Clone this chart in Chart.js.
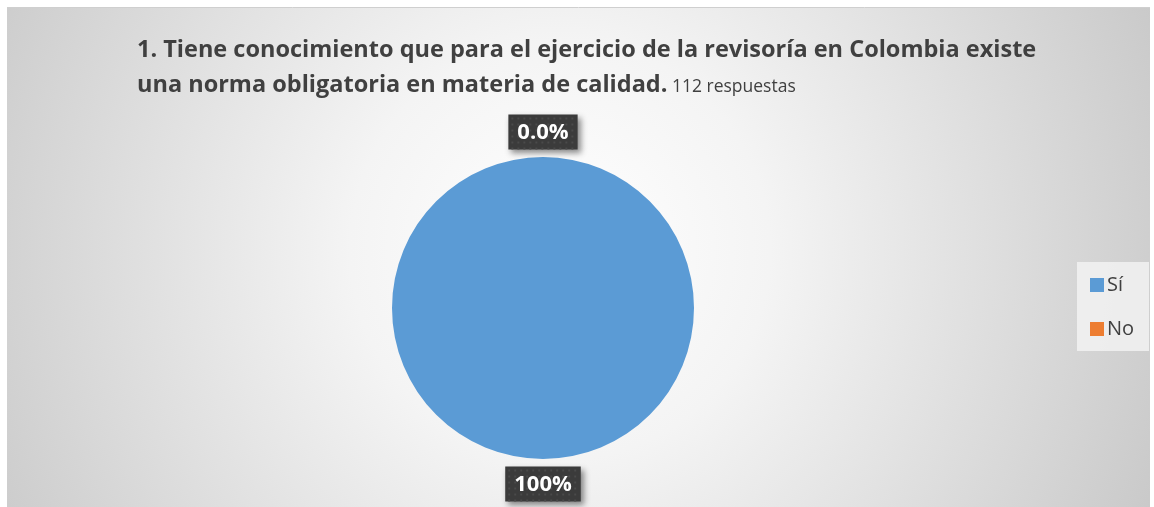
<!DOCTYPE html>
<html><head><meta charset="utf-8">
<script src="https://cdn.jsdelivr.net/npm/chart.js@4/dist/chart.umd.min.js"></script>
<style>html,body{margin:0;padding:0;background:#fff;}#wrap{width:1154px;height:507px;}</style>
</head><body><div id="wrap"><canvas id="c" width="1154" height="507"></canvas></div>
<script>
const categories = ["Sí", "No"];
const values = [100, 0];
const valueLabels = ["100%", "0.0%"];
const colors = ["#5B9BD5", "#ED7D31"];
const titleLine1 = "1. Tiene conocimiento que para el ejercicio de la revisoría en Colombia existe";
const titleLine2 = "una norma obligatoria en materia de calidad.";
const titleSuffix = " 112 respuestas";

const bgPlugin = {
  id: 'bg',
  beforeDraw(chart) {
    const ctx = chart.ctx;
    ctx.save();
    ctx.fillStyle = '#fff';
    ctx.fillRect(0, 0, 1154, 507);
    const g = ctx.createRadialGradient(560, 250, 0, 560, 250, 700);
    g.addColorStop(0, '#ffffff');
    g.addColorStop(0.3, '#f4f4f4');
    g.addColorStop(1, '#c4c4c4');
    ctx.fillStyle = g;
    ctx.fillRect(7, 8, 1143, 499);
    ctx.strokeStyle = '#cfcfcf';
    ctx.lineWidth = 1;
    ctx.beginPath(); ctx.moveTo(7, 7.5); ctx.lineTo(1150, 7.5); ctx.stroke();
    ctx.restore();
  },
  afterDraw(chart) {
    const ctx = chart.ctx;
    ctx.save();
    // title
    ctx.fillStyle = '#404040';
    ctx.textBaseline = 'alphabetic';
    ctx.textAlign = 'left';
    ctx.font = 'bold 23.5px "Open Sans"';
    ctx.fillText(titleLine1, 137, 57);
    ctx.fillText(titleLine2, 137, 92);
    const w2 = ctx.measureText(titleLine2).width;
    ctx.font = '17.5px "Open Sans"';
    ctx.fillText(titleSuffix, 137 + w2, 92);
    // data labels
    const meta = chart.getDatasetMeta(0);
    meta.data.forEach((arc, i) => {
      const p = arc.getProps(['x','y','startAngle','endAngle','outerRadius'], true);
      const mid = (p.startAngle + p.endAngle) / 2;
      const r = p.outerRadius + 25;
      const cx = p.x + Math.cos(mid) * r;
      const cy = p.y + Math.sin(mid) * r;
      ctx.font = 'bold 22px "Open Sans"';
      const tw = ctx.measureText(valueLabels[i]).width;
      const bw = tw + 18, bh = 35;
      ctx.save();
      ctx.shadowColor = 'rgba(0,0,0,0.45)';
      ctx.shadowBlur = 6; ctx.shadowOffsetX = 3; ctx.shadowOffsetY = 3;
      ctx.fillStyle = '#3b3b3b';
      ctx.fillRect(cx - bw/2, cy - bh/2, bw, bh);
      ctx.restore();
      ctx.fillStyle = '#4a4a4a';
      for (let x = cx - bw/2 + 3; x < cx + bw/2 - 1; x += 6)
        for (let y = cy - bh/2 + 3; y < cy + bh/2 - 1; y += 6)
          ctx.fillRect(x, y, 2, 2);
      ctx.fillStyle = '#ffffff';
      ctx.textAlign = 'center';
      ctx.textBaseline = 'middle';
      ctx.fillText(valueLabels[i], cx, cy + 1);
    });
    // legend
    ctx.fillStyle = 'rgba(242,242,242,0.85)';
    ctx.fillRect(1077, 262, 72, 89);
    ctx.font = '20px "Open Sans"';
    ctx.textAlign = 'left';
    ctx.textBaseline = 'middle';
    categories.forEach((c, i) => {
      const y = 285 + i * 44;
      ctx.fillStyle = colors[i];
      ctx.fillRect(1090, y - 7, 14, 14);
      ctx.fillStyle = '#404040';
      ctx.fillText(c, 1107, y);
    });
    ctx.restore();
  }
};

new Chart(document.getElementById('c'), {
  type: 'pie',
  data: { labels: categories, datasets: [{ data: values, backgroundColor: colors, borderWidth: 0 }] },
  options: {
    responsive: false, animation: false,
    layout: { padding: { left: 392, right: 460, top: 157, bottom: 48 } },
    plugins: { legend: { display: false }, tooltip: { enabled: false }, title: { display: false } }
  },
  plugins: [bgPlugin]
});
</script></body></html>
